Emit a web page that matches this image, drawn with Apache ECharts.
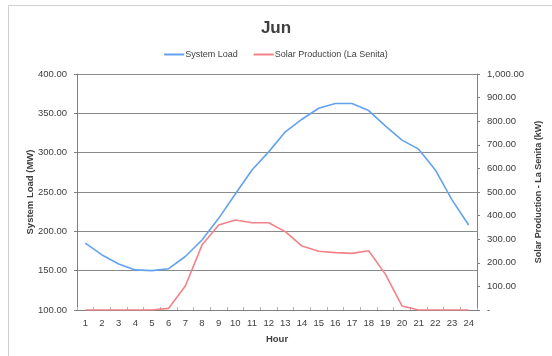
<!DOCTYPE html>
<html>
<head>
<meta charset="utf-8">
<script src="https://cdn.jsdelivr.net/npm/echarts@6/dist/echarts.min.js"></script>
<style>
  html, body { margin: 0; padding: 0; background: #fff; }
  #chart { width: 552px; height: 356px; }
</style>
</head>
<body>
<div id="chart"></div>
<script>
// Hourly categories
const hours = ['1','2','3','4','5','6','7','8','9','10','11','12','13','14','15','16','17','18','19','20','21','22','23','24'];

// System load per hour (MW), left axis
const systemLoad = [185, 170, 158.5, 151, 150, 152.5, 168, 189, 216.5, 247.5, 278, 301, 326.5, 342.5, 356.5, 362.5, 362.5, 353.5, 334, 316, 304.5, 278, 240, 208];

// Solar production at La Senita per hour (kW), right axis
const solarProduction = [0, 0, 0, 0, 0, 7, 102, 275, 360, 381, 370, 370, 332, 271, 249, 243, 240, 251, 152, 17, 0, 0, 0, 0];

// Axis ranges
const loadMin = 100, loadMax = 400, loadStep = 50;
const solarMin = 0, solarMax = 1000, solarStep = 100;

const FONT = 'Liberation Sans';
const chart = echarts.init(document.getElementById('chart'));

chart.setOption({
  animation: false,
  backgroundColor: '#ffffff',
  textStyle: { fontFamily: FONT },
  graphic: [{
    type: 'rect',
    shape: { x: 8.5, y: 5.5, width: 560, height: 360 },
    style: { fill: 'none', stroke: '#cfcfcf', lineWidth: 1 },
    silent: true
  }],
  title: {
    text: 'Jun',
    left: 'center',
    top: 15,
    textStyle: { fontFamily: FONT, fontSize: 17, fontWeight: 'bold', color: '#404040' }
  },
  legend: {
    top: 45,
    left: 'center',
    itemWidth: 20,
    itemHeight: 2,
    itemGap: 16,
    icon: 'rect',
    textStyle: { fontFamily: FONT, fontSize: 9, color: '#404040', padding: [0, 0, 0, -4] },
    data: ['System Load', 'Solar Production (La Senita)']
  },
  grid: { left: 77, right: 75, top: 74, bottom: 46 },
  xAxis: {
    type: 'category',
    data: hours,
    boundaryGap: true,
    name: 'Hour',
    nameLocation: 'middle',
    nameGap: 24,
    nameMoveOverlap: false,
    nameTextStyle: { fontFamily: FONT, fontSize: 9.5, fontWeight: 'bold', color: '#404040' },
    axisLine: { lineStyle: { color: '#808080', width: 1 } },
    axisTick: { show: true, inside: true, length: 3, lineStyle: { color: '#b0b0b0' } },
    axisLabel: { fontFamily: FONT, fontSize: 9.5, color: '#404040', margin: 8 }
  },
  yAxis: [{
    type: 'value',
    min: loadMin,
    max: loadMax,
    interval: loadStep,
    position: 'left',
    name: 'System Load (MW)',
    nameLocation: 'middle',
    nameGap: 42,
    nameMoveOverlap: false,
    nameTextStyle: { fontFamily: FONT, fontSize: 9.5, fontWeight: 'bold', color: '#404040' },
    axisLine: { show: true, lineStyle: { color: '#808080', width: 1 } },
    axisTick: { show: true, length: 3, lineStyle: { color: '#808080' } },
    axisLabel: {
      fontFamily: FONT, fontSize: 9.5, color: '#404040', margin: 10,
      formatter: v => v.toFixed(2)
    },
    splitLine: { show: true, lineStyle: { color: '#8a8a8a', width: 1 } }
  }, {
    type: 'value',
    min: solarMin,
    max: solarMax,
    interval: solarStep,
    position: 'right',
    name: 'Solar Production - La Senita (kW)',
    nameLocation: 'middle',
    nameGap: 57,
    nameRotate: 90,
    nameMoveOverlap: false,
    nameTextStyle: { fontFamily: FONT, fontSize: 9, fontWeight: 'bold', color: '#404040' },
    axisLine: { show: true, lineStyle: { color: '#808080', width: 1 } },
    axisTick: { show: true, length: 3, lineStyle: { color: '#808080' } },
    axisLabel: {
      fontFamily: FONT, fontSize: 9.5, color: '#404040', margin: 10,
      formatter: v => v === 0 ? '-' : v.toLocaleString('en-US', { minimumFractionDigits: 2, maximumFractionDigits: 2 })
    },
    splitLine: { show: false }
  }],
  series: [{
    name: 'System Load',
    type: 'line',
    yAxisIndex: 0,
    data: systemLoad,
    showSymbol: false,
    symbol: 'none',
    color: '#62a2ee',
    lineStyle: { color: '#62a2ee', width: 1.6 },
    z: 3
  }, {
    name: 'Solar Production (La Senita)',
    type: 'line',
    yAxisIndex: 1,
    data: solarProduction,
    showSymbol: false,
    symbol: 'none',
    color: '#f28288',
    lineStyle: { color: '#f28288', width: 1.6 },
    z: 2
  }]
});
</script>
</body>
</html>
